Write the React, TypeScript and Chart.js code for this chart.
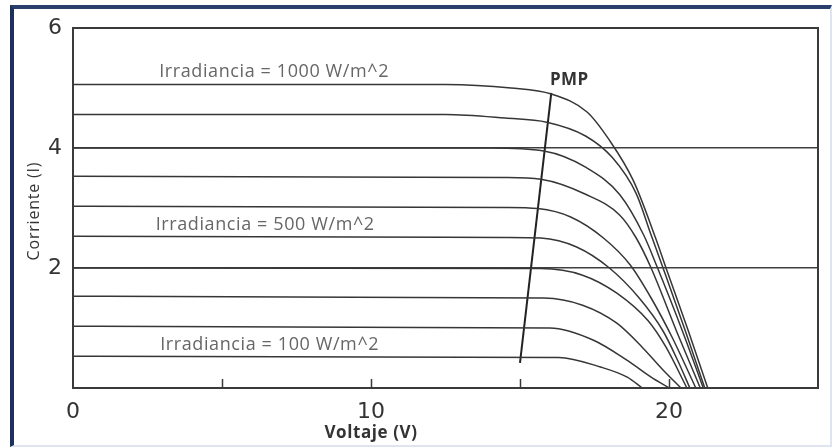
import React, { useEffect, useRef } from "react";
import { Chart, registerables } from "chart.js";

Chart.register(...registerables);

type Pt = [number, number];

// I–V curves of a PV module, one per irradiance level (voltage V, current A)
const irradiance = [1000, 900, 800, 700, 600, 500, 400, 300, 200, 100];

const curve1000: Pt[] = [[0, 5.06], [12.5, 5.06], [14.7, 5.0], [16.05, 4.9], [17.25, 4.6], [18.0, 4.13], [18.8, 3.46], [19.55, 2.5], [19.9, 2.0], [20.65, 0.95], [21.3, 0]];
const curve900: Pt[] = [[0, 4.56], [12.5, 4.56], [14.5, 4.5], [15.9, 4.43], [17.2, 4.2], [18.1, 3.84], [18.9, 3.24], [19.4, 2.55], [19.8, 2.0], [20.55, 0.95], [21.2, 0]];
const curve800: Pt[] = [[0, 4.0], [14.0, 4.0], [15.8, 3.95], [17.2, 3.68], [18.35, 3.22], [19.15, 2.55], [19.6, 2.02], [20.45, 0.95], [21.15, 0]];
const curve700: Pt[] = [[0, 3.53], [14.5, 3.51], [15.7, 3.48], [17.2, 3.23], [18.35, 2.88], [18.9, 2.5], [19.4, 2.0], [20.25, 0.95], [21.05, 0]];
const curve600: Pt[] = [[0, 3.03], [14.5, 3.01], [15.6, 2.99], [16.7, 2.85], [17.8, 2.5], [18.7, 2.05], [19.4, 1.5], [20.1, 0.85], [20.9, 0]];
const curve500: Pt[] = [[0, 2.53], [14.5, 2.51], [15.7, 2.5], [16.9, 2.35], [18.0, 2.0], [19.0, 1.5], [19.8, 0.95], [20.3, 0.45], [20.7, 0]];
const curve400: Pt[] = [[0, 2.0], [15.7, 1.99], [17.1, 1.88], [18.25, 1.58], [19.3, 1.12], [19.9, 0.68], [20.6, 0]];
const curve300: Pt[] = [[0, 1.53], [15.8, 1.5], [17.1, 1.38], [18.25, 1.08], [19.1, 0.68], [19.8, 0.3], [20.4, 0]];
const curve200: Pt[] = [[0, 1.03], [16.0, 1.0], [17.45, 0.8], [18.6, 0.46], [19.4, 0.18], [20.0, 0]];
const curve100: Pt[] = [[0, 0.53], [16.3, 0.51], [17.7, 0.35], [18.6, 0.18], [19.1, 0]];

const curves = [curve1000, curve900, curve800, curve700, curve600, curve500, curve400, curve300, curve200, curve100];

// locus of maximum power points
const pmpLocus: Pt[] = [[16.05, 4.92], [15.0, 0.42]];

const xTickValues = [0, 10, 20];
const xMinorTicks = [5, 10, 15, 20];
const yTickValues = [2, 4, 6];

const curveNotes = [
  { text: "Irradiancia = 1000 W/m^2", x: 6.75, y: 5.27 },
  { text: "Irradiancia = 500 W/m^2", x: 6.45, y: 2.72 },
  { text: "Irradiancia = 100 W/m^2", x: 6.6, y: 0.72 },
];
const pmpNote = { text: "PMP", x: 16.65, y: 5.13 };
const xTitle = "Voltaje (V)";
const yTitle = "Corriente (I)";

const overlay = {
  id: "overlay",
  afterDatasetsDraw(chart: any) {
    const { ctx, chartArea } = chart;
    const xs = chart.scales.x;
    const ys = chart.scales.y;
    ctx.save();

    // plot frame
    ctx.strokeStyle = "#3a3a3a";
    ctx.lineWidth = 2;
    ctx.strokeRect(chartArea.left, chartArea.top, chartArea.right - chartArea.left, chartArea.bottom - chartArea.top);

    // inward tick marks on the voltage axis
    ctx.lineWidth = 1.5;
    for (const v of xMinorTicks) {
      const px = Math.round(xs.getPixelForValue(v)) + 0.5;
      ctx.beginPath();
      ctx.moveTo(px, chartArea.bottom);
      ctx.lineTo(px, chartArea.bottom - 9);
      ctx.stroke();
    }

    ctx.textAlign = "center";
    ctx.textBaseline = "middle";

    // irradiance notes
    ctx.fillStyle = "#666";
    ctx.font = "18px 'Open Sans'";
    ctx.letterSpacing = "0.6px";
    for (const n of curveNotes) {
      ctx.fillText(n.text, xs.getPixelForValue(n.x), ys.getPixelForValue(n.y));
    }

    ctx.fillStyle = "#333";
    ctx.font = "bold 17px 'Open Sans'";
    ctx.letterSpacing = "0.4px";
    ctx.fillText(pmpNote.text, xs.getPixelForValue(pmpNote.x), ys.getPixelForValue(pmpNote.y));

    // axis titles
    ctx.font = "bold 17px 'Open Sans'";
    ctx.letterSpacing = "0.6px";
    ctx.fillText(xTitle, xs.getPixelForValue(10), 433);

    ctx.save();
    ctx.translate(34, (chartArea.top + chartArea.bottom) / 2 + 3);
    ctx.rotate(-Math.PI / 2);
    ctx.font = "16px 'Open Sans'";
    ctx.letterSpacing = "0.8px";
    ctx.fillText(yTitle, 0, 0);
    ctx.restore();

    ctx.letterSpacing = "0px";
    ctx.restore();
  },
};

export default function App() {
  const canvasRef = useRef<HTMLCanvasElement | null>(null);

  useEffect(() => {
    const canvas = canvasRef.current;
    if (!canvas) return;

    const datasets: any[] = curves.map((c, i) => ({
      label: `${irradiance[i]} W/m^2`,
      data: c.map(([x, y]) => ({ x, y })),
      borderColor: "#363636",
      borderWidth: 1.5,
      pointRadius: 0,
      fill: false,
      cubicInterpolationMode: "monotone",
    }));
    datasets.push({
      label: "PMP",
      data: pmpLocus.map(([x, y]) => ({ x, y })),
      borderColor: "#222",
      borderWidth: 2,
      pointRadius: 0,
      fill: false,
      tension: 0,
    });

    const chart = new Chart(canvas, {
      type: "line",
      data: { datasets },
      options: {
        animation: false,
        responsive: false,
        devicePixelRatio: 1,
        layout: { padding: { top: 28, right: 15, bottom: 0, left: 0 } },
        plugins: { legend: { display: false }, tooltip: { enabled: false } },
        scales: {
          x: {
            type: "linear",
            min: 0,
            max: 25,
            afterBuildTicks: (s: any) => {
              s.ticks = xTickValues.map((v) => ({ value: v }));
            },
            afterFit: (s: any) => {
              s.height = 59;
            },
            grid: { drawOnChartArea: false, drawTicks: false },
            border: { display: false },
            ticks: {
              padding: 11,
              color: "#333",
              font: { family: "'DejaVu Sans'", size: 22 },
              maxRotation: 0,
            },
          },
          y: {
            type: "linear",
            min: 0,
            max: 6,
            afterBuildTicks: (s: any) => {
              s.ticks = yTickValues.map((v) => ({ value: v }));
            },
            afterFit: (s: any) => {
              s.width = 73;
            },
            grid: { color: "#404040", lineWidth: 1.5, drawTicks: false },
            border: { display: false },
            ticks: {
              padding: 11,
              color: "#333",
              font: { family: "'DejaVu Sans'", size: 22 },
            },
          },
        },
      },
      plugins: [overlay],
    });

    return () => chart.destroy();
  }, []);

  return (
    <div style={{ position: "absolute", left: 0, top: 0, width: 833, height: 447, background: "#fff" }}>
      <div
        style={{
          position: "absolute",
          left: 10,
          top: 5,
          width: 816,
          height: 436,
          borderLeft: "4px solid #1d2f5c",
          borderTop: "4px solid #2b3f6c",
          borderRight: "2px solid #dfe5f0",
          borderBottom: "2px solid #dfe5f0",
        }}
      />
      <canvas ref={canvasRef} width={833} height={447} style={{ position: "absolute", left: 0, top: 0 }} />
    </div>
  );
}
